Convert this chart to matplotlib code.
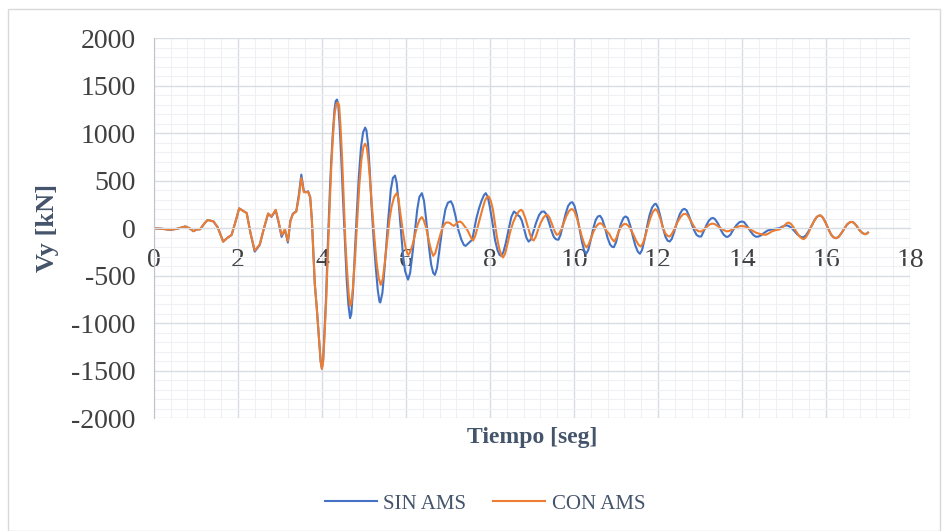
import numpy as np
import matplotlib.pyplot as plt
from matplotlib.patches import Rectangle
from matplotlib.ticker import MultipleLocator

plt.rcParams['font.family'] = ['Liberation Serif', 'DejaVu Serif']
plt.rcParams['axes.unicode_minus'] = False

# tramo inicial (ambas curvas casi iguales)
t_ini = [0.00, 0.20, 0.39, 0.55, 0.75, 0.85, 0.94, 1.02, 1.10, 1.20, 1.28, 1.42,
         1.52, 1.65, 1.75, 1.85, 1.95, 2.03, 2.12, 2.21, 2.30]
v_ini = [0, -5, -16, -5, 20, 0, -30, -12, -10, 50, 88, 72,
         10, -140, -100, -70, 80, 210, 185, 160, -50]

# SIN AMS
t_sin = [2.40, 2.52, 2.62, 2.72, 2.80, 2.90, 2.97, 3.04, 3.12, 3.19, 3.25, 3.31,
         3.39, 3.45, 3.51, 3.57, 3.63, 3.67, 3.72, 3.76, 3.80, 3.83, 3.88, 3.93,
         3.97, 4.00, 4.03, 4.06, 4.10, 4.13, 4.16, 4.19, 4.22, 4.26, 4.30, 4.33,
         4.36, 4.39, 4.42, 4.46, 4.50, 4.55, 4.59, 4.63, 4.67, 4.70, 4.74, 4.78,
         4.83, 4.88, 4.93, 4.98, 5.03, 5.06, 5.10, 5.14, 5.18, 5.23, 5.28, 5.33,
         5.37, 5.39, 5.44, 5.49, 5.53, 5.58, 5.64, 5.69, 5.74, 5.78, 5.83, 5.88,
         5.93, 5.98, 6.05, 6.10, 6.16, 6.22, 6.27, 6.32, 6.38, 6.43, 6.48, 6.55,
         6.60, 6.65, 6.69, 6.74, 6.80, 6.88, 6.94, 7.00, 7.07, 7.12, 7.18, 7.25,
         7.32, 7.38, 7.42, 7.48, 7.54, 7.58, 7.63, 7.68, 7.74, 7.80, 7.86, 7.90,
         7.95, 8.00, 8.06, 8.12, 8.18, 8.23, 8.27, 8.32, 8.38, 8.45, 8.51, 8.57,
         8.62, 8.67, 8.71, 8.76, 8.82, 8.87, 8.92, 8.97, 9.03, 9.10, 9.17, 9.23,
         9.29, 9.34, 9.40, 9.46, 9.52, 9.57, 9.63, 9.68, 9.74, 9.80, 9.86, 9.92,
         9.96, 10.01, 10.07, 10.13, 10.19, 10.24, 10.29, 10.34, 10.40, 10.46, 10.52, 10.57,
         10.62, 10.67, 10.73, 10.80, 10.86, 10.91, 10.95, 11.00, 11.06, 11.12, 11.18, 11.23,
         11.28, 11.34, 11.40, 11.46, 11.52, 11.57, 11.62, 11.68, 11.74, 11.80, 11.86, 11.92,
         11.95, 12.00, 12.06, 12.12, 12.18, 12.23, 12.28, 12.33, 12.39, 12.45, 12.52, 12.58,
         12.63, 12.68, 12.74, 12.80, 12.86, 12.92, 12.98, 13.03, 13.08, 13.15, 13.21, 13.27,
         13.31, 13.36, 13.43, 13.50, 13.56, 13.62, 13.66, 13.72, 13.80, 13.87, 13.94, 14.00,
         14.05, 14.12, 14.20, 14.27, 14.33, 14.38, 14.45, 14.52, 14.61, 14.73, 14.89, 14.97,
         15.04, 15.10, 15.18, 15.25, 15.32, 15.40, 15.46, 15.52, 15.58, 15.65, 15.72, 15.78,
         15.84, 15.88, 15.93, 15.99, 16.06, 16.12, 16.18, 16.24, 16.30, 16.36, 16.44, 16.50,
         16.56, 16.61, 16.66, 16.73, 16.80, 16.87, 16.93, 16.97, 17.00]
v_sin = [-245, -175, 0, 155, 120, 190, 60, -90, -15, -150, 80, 155,
         180, 350, 565, 390, 380, 390, 330, 100, -300, -580, -850, -1150,
         -1400, -1475, -1380, -1100, -720, -300, 50, 400, 690, 1000, 1250, 1340,
         1355, 1300, 1100, 750, 330, -150, -540, -800, -945, -900, -650, -300,
         150, 550, 850, 1010, 1060, 1030, 880, 600, 250, -100, -400, -650,
         -770, -780, -680, -430, -190, 100, 405, 530, 555, 480, 250, -20,
         -280, -450, -540, -470, -250, 0, 200, 330, 370, 290, 100, -200,
         -380, -470, -490, -420, -220, 50, 200, 270, 285, 240, 130, -20,
         -120, -175, -185, -160, -135, -120, 0, 110, 210, 290, 350, 370,
         330, 220, 60, -120, -230, -280, -290, -250, -150, 0, 120, 177,
         160, 135, 125, 80, -20, -100, -140, -120, -40, 60, 140, 175,
         177, 150, 70, -20, -90, -115, -120, -70, 40, 150, 235, 270,
         275, 240, 140, 0, -140, -230, -268, -230, -120, 0, 90, 125,
         132, 100, 20, -100, -170, -195, -198, -150, -40, 50, 110, 125,
         110, 30, -80, -180, -245, -268, -230, -120, 20, 140, 220, 255,
         258, 220, 120, 0, -90, -130, -139, -110, -30, 60, 150, 195,
         205, 190, 130, 50, -20, -70, -86, -86, -40, 30, 80, 105,
         110, 95, 50, -20, -65, -88, -90, -70, -10, 35, 65, 72,
         65, 25, -30, -70, -88, -88, -75, -50, -23, -9, 2, 20,
         30, 28, 5, -30, -65, -90, -95, -75, -35, 20, 80, 120,
         135, 133, 110, 60, -10, -65, -95, -104, -90, -55, 0, 40,
         62, 68, 60, 25, -20, -50, -62, -55, -45]

# CON AMS
t_con = [2.40, 2.52, 2.62, 2.72, 2.80, 2.90, 2.97, 3.04, 3.12, 3.19, 3.25, 3.31,
         3.39, 3.45, 3.51, 3.57, 3.63, 3.67, 3.72, 3.76, 3.80, 3.83, 3.88, 3.93,
         3.97, 4.00, 4.03, 4.06, 4.10, 4.13, 4.16, 4.19, 4.22, 4.26, 4.30, 4.34,
         4.38, 4.41, 4.44, 4.48, 4.52, 4.56, 4.60, 4.64, 4.67, 4.70, 4.74, 4.79,
         4.84, 4.89, 4.94, 4.99, 5.03, 5.07, 5.11, 5.15, 5.20, 5.25, 5.30, 5.35,
         5.40, 5.45, 5.50, 5.56, 5.61, 5.66, 5.72, 5.78, 5.82, 5.87, 5.93, 5.98,
         6.03, 6.06, 6.10, 6.16, 6.22, 6.28, 6.33, 6.38, 6.42, 6.48, 6.54, 6.60,
         6.65, 6.70, 6.76, 6.83, 6.90, 6.95, 7.00, 7.05, 7.10, 7.14, 7.18, 7.24,
         7.29, 7.34, 7.40, 7.46, 7.52, 7.57, 7.60, 7.65, 7.70, 7.76, 7.82, 7.88,
         7.93, 7.97, 8.02, 8.07, 8.12, 8.17, 8.22, 8.27, 8.31, 8.36, 8.42, 8.48,
         8.55, 8.62, 8.69, 8.74, 8.78, 8.84, 8.90, 8.96, 9.00, 9.04, 9.09, 9.15,
         9.21, 9.27, 9.33, 9.37, 9.42, 9.48, 9.54, 9.59, 9.64, 9.70, 9.76, 9.82,
         9.88, 9.93, 9.96, 10.01, 10.07, 10.13, 10.19, 10.25, 10.30, 10.35, 10.41, 10.47,
         10.53, 10.58, 10.62, 10.67, 10.73, 10.78, 10.84, 10.90, 10.96, 11.01, 11.07, 11.13,
         11.19, 11.24, 11.30, 11.36, 11.42, 11.48, 11.54, 11.59, 11.64, 11.70, 11.76, 11.82,
         11.88, 11.94, 11.99, 12.05, 12.11, 12.17, 12.23, 12.28, 12.33, 12.40, 12.47, 12.54,
         12.60, 12.65, 12.70, 12.76, 12.83, 12.90, 12.96, 13.03, 13.09, 13.16, 13.23, 13.29,
         13.35, 13.42, 13.50, 13.57, 13.64, 13.70, 13.78, 13.86, 13.94, 14.00, 14.08, 14.16,
         14.25, 14.33, 14.42, 14.50, 14.57, 14.65, 14.72, 14.80, 14.90, 14.96, 15.02, 15.08,
         15.12, 15.17, 15.23, 15.30, 15.36, 15.42, 15.47, 15.52, 15.58, 15.65, 15.72, 15.78,
         15.84, 15.88, 15.93, 15.99, 16.06, 16.12, 16.18, 16.24, 16.30, 16.36, 16.44, 16.50,
         16.56, 16.61, 16.66, 16.73, 16.80, 16.87, 16.93, 16.97, 17.00]
v_con = [-233, -170, 0, 155, 125, 195, 70, -70, -10, -135, 80, 150,
         175, 320, 530, 380, 380, 385, 330, 100, -300, -580, -850, -1150,
         -1400, -1480, -1400, -1150, -780, -400, -50, 300, 620, 950, 1200, 1300,
         1325, 1290, 1100, 750, 300, -150, -450, -700, -815, -790, -620, -300,
         80, 450, 720, 860, 890, 850, 700, 480, 180, -100, -350, -520,
         -595, -530, -350, -100, 100, 230, 330, 370, 320, 150, -40, -180,
         -260, -280, -250, -170, -60, 40, 95, 118, 90, 10, -120, -230,
         -290, -260, -160, -50, 30, 60, 62, 55, 35, 26, 40, 65,
         72, 55, 20, -16, -70, -115, -128, -80, 0, 100, 200, 290,
         330, 335, 290, 200, 50, -100, -210, -280, -307, -270, -160, -40,
         60, 130, 180, 195, 180, 110, 20, -70, -115, -128, -90, -10,
         60, 110, 138, 142, 110, 40, -30, -68, -60, -10, 60, 130,
         180, 200, 202, 180, 110, 10, -90, -170, -200, -170, -100, -30,
         20, 45, 55, 45, 10, -30, -58, -110, -139, -100, -30, 20,
         45, 45, 25, -20, -70, -130, -175, -191, -160, -80, 20, 110,
         175, 202, 180, 110, 20, -50, -80, -86, -60, 0, 70, 120,
         148, 153, 140, 95, 40, -10, -30, -34, -15, 15, 40, 50,
         45, 25, 0, -20, -32, -28, -10, 10, 22, 25, 18, 0,
         -25, -45, -58, -65, -68, -50, -30, -20, -10, 10, 35, 58,
         60, 45, 10, -40, -80, -105, -114, -95, -50, 20, 80, 120,
         135, 133, 110, 60, -10, -65, -95, -104, -90, -55, 0, 40,
         62, 68, 60, 25, -20, -50, -62, -55, -45]

x_ticks = np.arange(0, 19, 2)
y_ticks = np.arange(-2000, 2001, 500)

azul = '#4472C4'
naranja = '#ED7D31'
texto = '#44546A'

fig = plt.figure(figsize=(9.44, 5.31), dpi=100)
ax = fig.add_axes([0.163, 0.212, 0.801, 0.716])

# borde del grafico
fig.patches.append(Rectangle((0.009, 0.0), 0.987, 0.983, transform=fig.transFigure,
                             fill=False, edgecolor='#D9D9D9', linewidth=1.0))

ax.plot(t_ini + t_sin, v_ini + v_sin, color=azul, linewidth=1.5, label='SIN AMS',
        solid_joinstyle='round')
ax.plot(t_ini + t_con, v_ini + v_con, color=naranja, linewidth=1.5, label='CON AMS',
        solid_joinstyle='round')

ax.set_xlim(0, 18)
ax.set_ylim(-2000, 2000)
ax.set_xticks(x_ticks)
ax.set_yticks(y_ticks)
ax.xaxis.set_minor_locator(MultipleLocator(0.4))
ax.yaxis.set_minor_locator(MultipleLocator(100))
ax.grid(which='major', color='#D9DDE3', linewidth=1.0)
ax.grid(which='minor', color='#EEF0F3', linewidth=0.8)
ax.set_axisbelow(True)

for s in ['top', 'right']:
    ax.spines[s].set_visible(False)
ax.spines['left'].set_color('#BFC4CC')
ax.spines['bottom'].set_position(('data', 0))
ax.spines['bottom'].set_color('#D9DDE3')
ax.tick_params(which='both', length=0)
ax.tick_params(axis='x', labelsize=20, labelcolor='#404040', pad=14)
ax.tick_params(axis='y', labelsize=20, labelcolor='#404040', pad=13)

ax.set_xlabel('Tiempo [seg]', fontsize=17, fontweight='bold', color=texto)
ax.set_ylabel('Vy [kN]', fontsize=19, fontweight='bold', color=texto)
ax.xaxis.set_label_coords(0.5, -0.022)
ax.yaxis.set_label_coords(-0.126, 0.5)

leg = ax.legend(loc='center', bbox_to_anchor=(0.438, -0.225), ncol=2, frameon=False,
                fontsize=15, handlelength=2.5, columnspacing=1.3, handletextpad=0.3)
for txt in leg.get_texts():
    txt.set_color(texto)

fig.savefig('out.png', dpi=100)
